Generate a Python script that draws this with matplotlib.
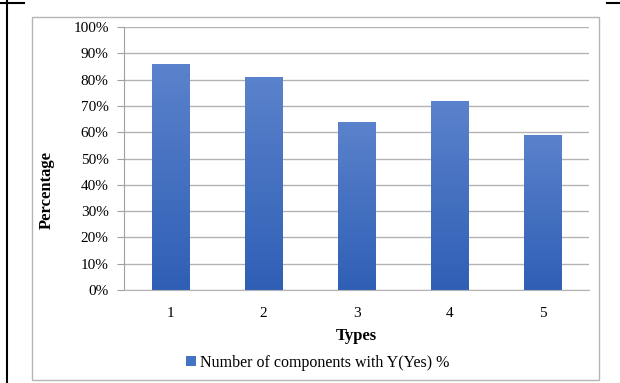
import numpy as np
import matplotlib.pyplot as plt
from matplotlib.patches import Rectangle
from matplotlib.lines import Line2D
from matplotlib.colors import LinearSegmentedColormap

plt.rcParams['font.family'] = ['Liberation Serif', 'DejaVu Serif']

types = ['1', '2', '3', '4', '5']
yes_pct = [86, 81, 64, 72, 59]
series_name = 'Number of components with Y(Yes) %'
y_ticks = [0, 10, 20, 30, 40, 50, 60, 70, 80, 90, 100]

fig = plt.figure(figsize=(6.2, 3.83), dpi=100)

# outer frame of the chart (gray box) and the black page lines
fig.patches.append(Rectangle((32 / 620, 3 / 383), 567 / 620, 363 / 383,
                             transform=fig.transFigure, fill=False,
                             edgecolor='#b5b5b5', linewidth=1.0))
fig.lines.append(Line2D([7 / 620, 7 / 620], [0, 1], transform=fig.transFigure,
                        color='black', linewidth=1.5))
fig.lines.append(Line2D([0, 24 / 620], [380 / 383, 380 / 383], transform=fig.transFigure,
                        color='black', linewidth=1.5))
fig.lines.append(Line2D([607 / 620, 1], [380 / 383, 380 / 383], transform=fig.transFigure,
                        color='black', linewidth=1.5))

ax = fig.add_axes([124 / 620, 93 / 383, 465 / 620, 263 / 383])

x = np.arange(1, len(types) + 1)
bars = ax.bar(x, yes_pct, width=0.4, color='#4472c4', zorder=2, label=series_name)

# vertical gradient inside each bar
cmap = LinearSegmentedColormap.from_list('bar', ['#2f5fb5', '#5b82cc'])
grad = np.linspace(0, 1, 256).reshape(-1, 1)
for b in bars:
    x0, y0 = b.get_x(), b.get_y()
    w, h = b.get_width(), b.get_height()
    im = ax.imshow(grad, cmap=cmap, origin='lower', aspect='auto',
                   extent=(x0, x0 + w, y0, y0 + h), zorder=2.5)
    im.set_clip_path(b)

ax.set_xlim(0.5, len(types) + 0.5)
ax.set_ylim(0, 100)
ax.set_yticks(y_ticks)
ax.set_yticklabels([f'{t}%' for t in y_ticks], fontsize=11)
ax.set_xticks(x)
ax.set_xticklabels(types, fontsize=11)
ax.tick_params(axis='x', length=0, pad=12)
ax.tick_params(axis='y', length=5, color='#a0a0a0', pad=6)

ax.grid(axis='y', color='#b3b3b3', linewidth=1.0, zorder=0)
ax.set_axisbelow(True)
for s in ['top', 'right']:
    ax.spines[s].set_visible(False)
ax.spines['left'].set_color('#a0a0a0')
ax.spines['bottom'].set_color('#b3b3b3')

ax.set_xlabel('Types', fontsize=12, fontweight='bold', labelpad=6)
ax.set_ylabel('Percentage', fontsize=12, fontweight='bold')
ax.yaxis.set_label_coords(-0.148, 0.38)

handle = Rectangle((0, 0), 1, 1, facecolor='#4472c4')
fig.legend([handle], [series_name], loc='center', bbox_to_anchor=(318 / 620, 20 / 383),
           frameon=False, fontsize=11.5, handlelength=0.6, handleheight=0.6,
           handletextpad=0.3)

fig.savefig('out.png', dpi=100)
